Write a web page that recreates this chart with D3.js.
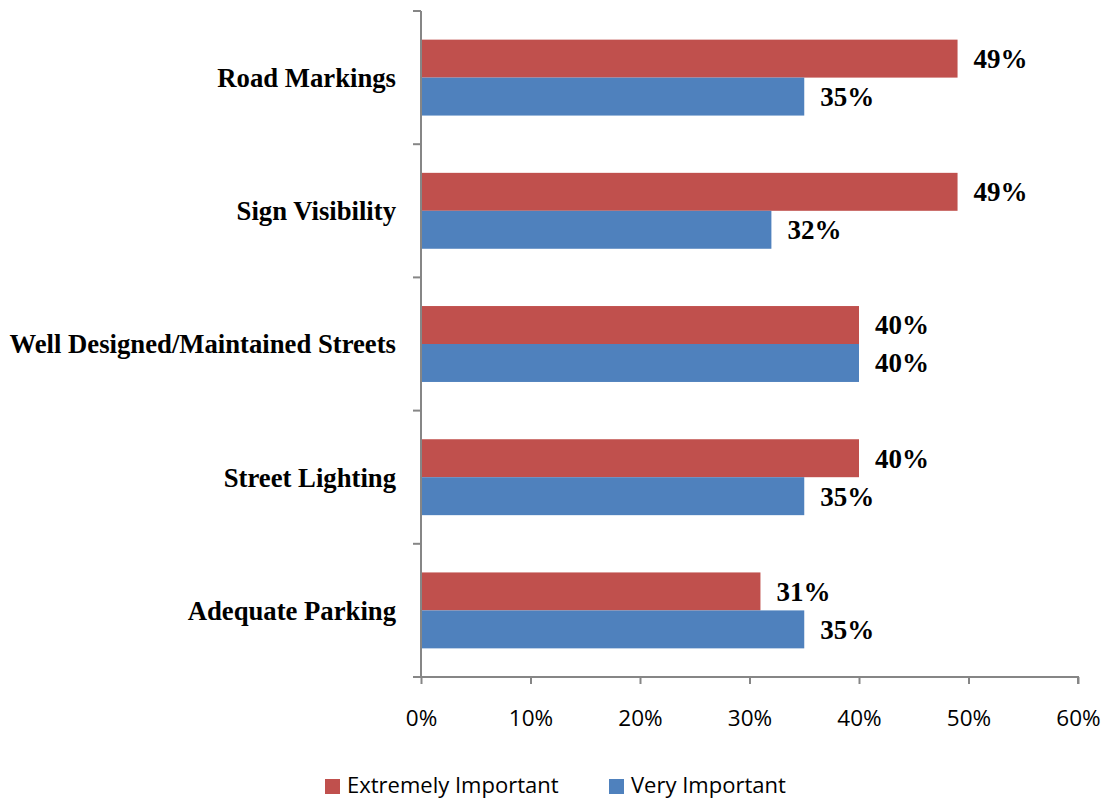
<!DOCTYPE html>
<html>
<head>
<meta charset="utf-8">
<script src="https://cdn.jsdelivr.net/npm/d3@7"></script>
<style>
	body { margin: 0; background: #fff; }
</style>
</head>
<body>
<script>

let width = 1107;
let height = 801;

let margins = {
	top: 11,
	right: 29,
	bottom: 124,
	left: 421
};

// Data
let categories = ["Road Markings", "Sign Visibility", "Well Designed/Maintained Streets", "Street Lighting", "Adequate Parking"];
let extremelyImportant = [49, 49, 40, 40, 31];
let veryImportant = [35, 32, 40, 35, 35];
let xTicks = [0, 10, 20, 30, 40, 50, 60];

let series = [
	{title: "Extremely Important", color: "#C0504D", values: extremelyImportant},
	{title: "Very Important", color: "#4F81BD", values: veryImportant}
];

let xScale = d3.scaleLinear()
	.range([margins.left, width - margins.right])
	.domain([0, 60]);

let yScale = d3.scaleBand()
	.range([margins.top, height - margins.bottom])
	.domain(categories)
	.paddingInner(0.43)
	.paddingOuter(0.215);

let inner = d3.scaleBand()
	.domain(series.map(s => s.title))
	.range([0, yScale.bandwidth()]);

let svg = d3.select("body")
	.append("svg")
		.attr("width", width)
		.attr("height", height);

// Bars
series.forEach((s) => {
	let g = svg.append("g");
	g.selectAll("rect")
		.data(categories)
		.enter().append("rect")
		.attr("x", xScale(0))
		.attr("y", (d) => yScale(d) + inner(s.title))
		.attr("width", (d, i) => xScale(s.values[i]) - xScale(0))
		.attr("height", inner.bandwidth())
		.style("fill", s.color);

	g.selectAll("text")
		.data(categories)
		.enter().append("text")
		.attr("x", (d, i) => xScale(s.values[i]) + 16)
		.attr("y", (d) => yScale(d) + inner(s.title) + inner.bandwidth() / 2)
		.attr("dy", "0.35em")
		.style("font-family", "'Liberation Serif', 'Times New Roman', serif")
		.style("font-weight", "bold")
		.style("font-size", "27px")
		.text((d, i) => s.values[i] + "%");
});

// x axis
let xAxis = d3.axisBottom(xScale)
	.tickValues(xTicks)
	.tickFormat(d => d + "%")
	.tickSize(7)
	.tickPadding(26);

let gx = svg.append("g")
	.attr("transform", "translate(0," + (height - margins.bottom) + ")")
	.call(xAxis);
gx.select(".domain").attr("d", "M" + xScale(0) + ",0H" + xScale(60) + "V7");
gx.selectAll("line").attr("stroke", "#868686").attr("stroke-width", 2);
gx.select(".domain").attr("stroke", "#868686").attr("stroke-width", 2);
gx.selectAll("text")
	.style("font-family", "'Open Sans', sans-serif")
	.style("font-size", "22.5px")
	.attr("fill", "#000");

// y axis: ticks between categories
let step = yScale.step();
let boundaries = d3.range(categories.length + 1).map(i => margins.top + i * step);

let gy = svg.append("g");
gy.append("line")
	.attr("x1", margins.left).attr("x2", margins.left)
	.attr("y1", margins.top).attr("y2", height - margins.bottom)
	.attr("stroke", "#868686").attr("stroke-width", 2);
gy.selectAll("line.tick")
	.data(boundaries)
	.enter().append("line")
	.attr("class", "tick")
	.attr("x1", margins.left - 8).attr("x2", margins.left)
	.attr("y1", d => d).attr("y2", d => d)
	.attr("stroke", "#868686").attr("stroke-width", 2);

gy.selectAll("text")
	.data(categories)
	.enter().append("text")
	.attr("x", margins.left - 25)
	.attr("y", d => yScale(d) + yScale.bandwidth() / 2)
	.attr("dy", "0.35em")
	.attr("text-anchor", "end")
	.style("font-family", "'Liberation Serif', 'Times New Roman', serif")
	.style("font-weight", "bold")
	.style("font-size", "26.7px")
	.text(d => d);

// Legend
let legendX = [325, 609];
let legend = svg.selectAll("g.legend")
	.data(series)
	.enter().append("g")
	.attr("class", "legend")
	.attr("transform", (d, i) => "translate(" + legendX[i] + ",779)");

legend.append("rect")
	.attr("width", 15)
	.attr("height", 15)
	.style("fill", d => d.color);

legend.append("text")
	.attr("x", 22)
	.attr("y", 6)
	.attr("dy", "0.35em")
	.style("font-family", "'Open Sans', sans-serif")
	.style("font-size", "22px")
	.text(d => d.title);

</script>
</body>
</html>
